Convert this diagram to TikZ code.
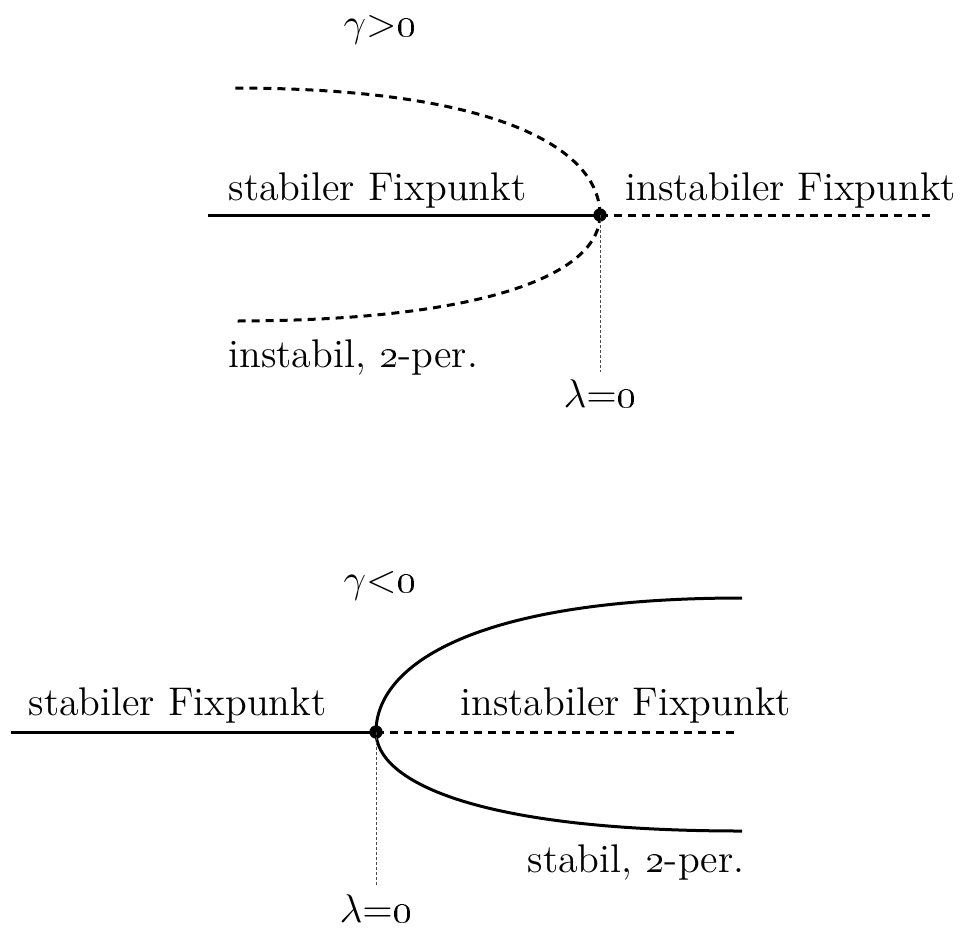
\documentclass[tikz,border=0pt]{standalone}
\usetikzlibrary{positioning}

\begin{document}
\begin{tikzpicture}[x=0.3pt,y=-0.3pt,font=\fontsize{12}{14}\selectfont]
\tikzset{StableStyle/.style = {line width=0.9pt},
	UnstableStyle/.style = {line width=0.9pt, dash pattern=on 2.4pt off 1.8pt},
	MarkerStyle/.style = {line width=0.3pt, gray!60!black, dash pattern=on 0.9pt off 0.6pt},
	LabelStyle/.style = {inner sep=0pt, anchor=base west},
	BifStyle/.style = {circle, fill, inner sep=0pt, minimum size=4pt}}
\useasboundingbox (0,0) rectangle (974,931);
% gamma > 0
\node[inner sep=0pt, anchor=base] (gpos) at (380,36) {$\gamma{>}$\oldstylenums{0}};
\node[BifStyle] (P) at (600,215) {};
\coordinate (Pleft) at (208,215);
\coordinate (Pright) at (934,215);
\coordinate (Pup) at (233,88);
\coordinate (Pdown) at (233,321);
\draw[StableStyle] (Pleft) -- (P.center);
\draw[UnstableStyle] (P.center) -- (Pright);
\draw[UnstableStyle] (P.center) .. controls +(0,-66) and +(265,0) .. (Pup);
\draw[UnstableStyle] (P.center) .. controls +(0,55) and +(265,0) .. (Pdown);
\node[LabelStyle] (Sfix) at (228,200) {stabiler Fixpunkt};
\node[LabelStyle] (Ufix) at (625,200) {instabiler Fixpunkt};
\node[LabelStyle] (Uper) at (228,367) {instabil, \oldstylenums{2}-per.};
\node[inner sep=0pt, anchor=base] (lpos) at (600,407) {$\lambda{=}$\oldstylenums{0}};
\draw[MarkerStyle] (P.center) -- ([yshift=2pt]lpos.north);
% gamma < 0
\node[inner sep=0pt, anchor=base] (gneg) at (380,592) {$\gamma{<}$\oldstylenums{0}};
\node[BifStyle] (Q) at (376,732) {};
\coordinate (Qleft) at (11,732);
\coordinate (Qright) at (737,732);
\coordinate (Qup) at (742,598);
\coordinate (Qdown) at (742,831);
\draw[StableStyle] (Qleft) -- (Q.center);
\draw[UnstableStyle] (Q.center) -- (Qright);
\draw[StableStyle] (Q.center) .. controls +(0,-66) and +(-270,0) .. (Qup);
\draw[StableStyle] (Q.center) .. controls +(0,48) and +(-270,0) .. (Qdown);
\node[LabelStyle] (Sfix2) at (28,715) {stabiler Fixpunkt};
\node[LabelStyle] (Ufix2) at (460,715) {instabiler Fixpunkt};
\node[LabelStyle] (Sper) at (527,872) {stabil, \oldstylenums{2}-per.};
\node[inner sep=0pt, anchor=base] (lneg) at (376,922) {$\lambda{=}$\oldstylenums{0}};
\draw[MarkerStyle] (Q.center) -- ([yshift=2pt]lneg.north);
\end{tikzpicture}
\end{document}
